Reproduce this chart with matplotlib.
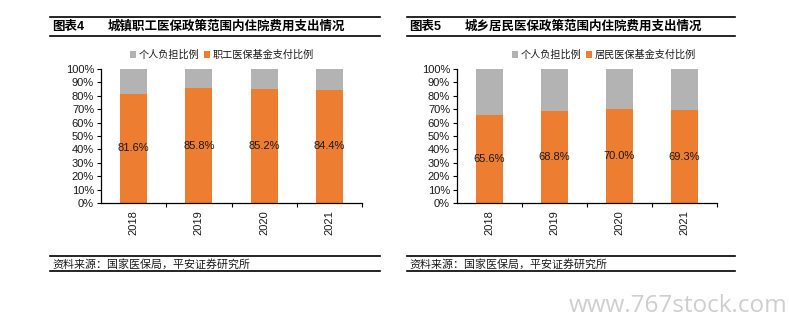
import matplotlib
matplotlib.use("Agg")
import matplotlib.pyplot as plt
from matplotlib.lines import Line2D
from matplotlib.ticker import MultipleLocator, FuncFormatter

plt.rcParams['font.family'] = ['Liberation Sans', 'Noto Sans CJK SC', 'DejaVu Sans']

years = ['2018', '2019', '2020', '2021']
urban_fund = [81.6, 85.8, 85.2, 84.4]
rural_fund = [65.6, 68.8, 70.0, 69.3]

panels = [
    dict(num='图表4', title='城镇职工医保政策范围内住院费用支出情况',
         fund_label='职工医保基金支付比例', values=urban_fund,
         frame=(50, 380), axes_x=(101, 362), legend_x=222),
    dict(num='图表5', title='城乡居民医保政策范围内住院费用支出情况',
         fund_label='居民医保基金支付比例', values=rural_fund,
         frame=(407, 735), axes_x=(457, 717), legend_x=604),
]
self_label = '个人负担比例'
source = '资料来源：国家医保局，平安证券研究所'

ORANGE = '#ED7D31'
GRAY = '#B3B3B3'
TEXT = '#1a1a1a'

W, H = 789, 326
fig = plt.figure(figsize=(W / 100, H / 100), dpi=100)
fig.patch.set_facecolor('white')


def fx(px):
    return px / W


def fy(py):
    return 1 - py / H


for p in panels:
    x0, x1 = p['frame']
    # header and footer rules
    for yy in (17, 36, 256, 271):
        fig.add_artist(Line2D([fx(x0), fx(x1)], [fy(yy), fy(yy)], color='black', lw=1.2))
    fig.text(fx(x0 + 2), fy(27), p['num'], fontsize=9, fontweight='bold',
             va='center', ha='left', color='black')
    fig.text(fx(x0 + 58), fy(27), p['title'], fontsize=9, fontweight='bold',
             va='center', ha='left', color='black')
    fig.text(fx(x0 + 2), fy(264), source, fontsize=7.9, style='italic',
             va='center', ha='left', color=TEXT)

    ax_l, ax_r = p['axes_x']
    ax = fig.add_axes([fx(ax_l), fy(203), (ax_r - ax_l) / W, (203 - 69) / H])
    vals = p['values']
    rest = [100 - v for v in vals]
    xs = range(len(years))
    ax.bar(xs, vals, width=0.41, color=ORANGE, label=p['fund_label'], zorder=2)
    ax.bar(xs, rest, width=0.41, bottom=vals, color=GRAY, label=self_label, zorder=2)
    for x, v in zip(xs, vals):
        ax.text(x, v / 2, f'{v:.1f}%', ha='center', va='center', fontsize=8, color=TEXT)

    ax.set_xlim(-0.5, len(years) - 0.5)
    ax.set_ylim(0, 100)
    ax.yaxis.set_major_locator(MultipleLocator(10))
    ax.yaxis.set_major_formatter(FuncFormatter(lambda v, _: f'{v:.0f}%'))
    ax.set_xticks(list(xs))
    ax.set_xticklabels(years, rotation=90, fontsize=8, color=TEXT)
    ax.set_xticks([i + 0.5 for i in xs], minor=True)
    ax.tick_params(axis='x', which='major', length=0, pad=5)
    ax.tick_params(axis='x', which='minor', length=3, direction='out', width=0.8)
    ax.tick_params(axis='y', length=3, width=0.8, labelsize=8, labelcolor=TEXT, pad=2)
    for s in ['top', 'right']:
        ax.spines[s].set_visible(False)
    for s in ['left', 'bottom']:
        ax.spines[s].set_linewidth(0.9)

    handles, labels = ax.get_legend_handles_labels()
    fig.legend(handles[::-1], labels[::-1], loc='center', ncol=2,
               bbox_to_anchor=(fx(p['legend_x']), fy(55)), frameon=False,
               fontsize=7.3, handlelength=0.55, handleheight=0.55, handletextpad=0.25,
               columnspacing=0.5, labelcolor=TEXT)

fig.text(fx(787), fy(306), 'www.767stock.com', fontsize=17.5, color='#CFCFCF',
         ha='right', va='center', family=['Open Sans', 'DejaVu Sans'])

fig.savefig('out.png', dpi=100, facecolor='white')
